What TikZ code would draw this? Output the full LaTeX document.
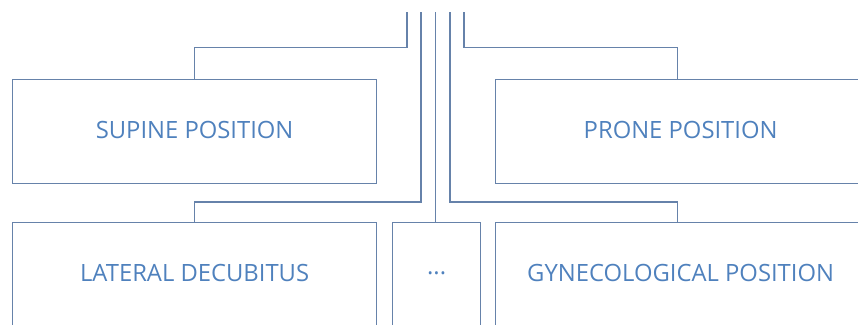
\documentclass[tikz,border=0pt]{standalone}
\usepackage{fontspec}
\setmainfont{Open Sans}
\definecolor{linec}{RGB}{102,130,170}
\definecolor{textc}{RGB}{79,129,189}
\newcommand{\upt}[1]{\raisebox{4pt}{#1}}
\tikzset{
  posbox/.style={draw=linec, line width=1.2pt, rectangle, anchor=north west, minimum height=104pt, inner sep=0pt, text=textc, font=\fontsize{23.8}{28}\selectfont},
  conn/.style={draw=linec, line width=1.2pt}
}
\begin{document}
\begin{tikzpicture}[x=1pt,y=-1pt]
\clip (0,0) rectangle (858,324);
\node[posbox, minimum width=364pt] (supine) at (12,79) {\upt{SUPINE POSITION}};
\node[posbox, minimum width=370pt] (prone) at (495,79) {\upt{PRONE POSITION}};
\node[posbox, minimum width=364pt] (lateral) at (12,222) {\upt{LATERAL DECUBITUS}};
\node[posbox, minimum width=88pt] (dots) at (392,222) {\upt{...}};
\node[posbox, minimum width=370pt] (gyn) at (495,222) {\upt{GYNECOLOGICAL POSITION}};
\coordinate (t1) at (407,12);
\coordinate (t2) at (421,12);
\coordinate (t3) at (435.7,12);
\coordinate (t4) at (450,12);
\coordinate (t5) at (464,12);
\draw[conn] (t1) -- (407,47.7) -| (supine.north);
\draw[conn] (t5) -- (464,47.7) -| (677.5,79);
\draw[conn] (t2) -- (421,202) -| (lateral.north);
\draw[conn] (t4) -- (450,202) -| (677.5,222);
\draw[conn] (t3) -- (t3 |- dots.north);
\end{tikzpicture}
\end{document}
